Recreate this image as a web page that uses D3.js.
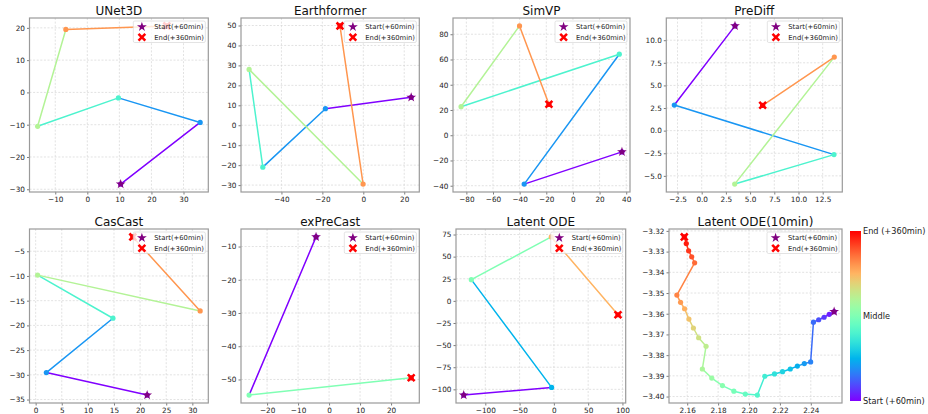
<!DOCTYPE html>
<html><head><meta charset="utf-8">
<script src="https://cdn.jsdelivr.net/npm/d3@7"></script>
<style>
body{margin:0;background:#fff}
text{font-family:"DejaVu Sans",sans-serif}
</style>
</head><body>
<svg id="c" width="928" height="414"></svg>
<script>
// ---------------- DATA ----------------
const titles = ["UNet3D","Earthformer","SimVP","PreDiff","CasCast","exPreCast","Latent ODE","Latent ODE(10min)"];

const unet3dX = [10.4, 35.2, 9.7, -15.5, -6.7, 24.8];
const unet3dY = [-28.4, -9.3, -1.7, -10.5, 19.5, 20.6];

const earthformerX = [23.4, -18.5, -49.1, -55.8, -0.1, -11.4];
const earthformerY = [14.0, 8.3, -21.0, 28.0, -29.5, 49.8];

const simvpX = [36.8, -36.6, 34.8, -84.0, -40.1, -18.0];
const simvpY = [-13.2, -38.7, 64.2, 22.6, 86.6, 24.5];

const prediffX = [3.44, -2.83, 13.67, 3.41, 13.70, 6.30];
const prediffY = [11.58, 2.83, -2.65, -5.91, 8.13, 2.80];

const cascastX = [21.35, 2.05, 14.8, 0.38, 31.5, 18.6];
const cascastY = [-34.1, -29.55, -18.55, -9.83, -17.07, -2.1];

const exprecastX = [-4.2, -25.8, 26.5];
const exprecastY = [-7.1, -54.7, -49.5];

const latentOdeX = [-131.5, -3.3, -120.4, -3.8, 93.5];
const latentOdeY = [-106.5, -97.8, 24.0, 72.3, -15.7];

const latentOde10X = [2.2551, 2.2519, 2.2486, 2.2451, 2.2417, 2.2399, 2.2358, 2.2313, 2.2267, 2.2217,
  2.2165, 2.2102, 2.2054, 2.1976, 2.1902, 2.1828, 2.1759, 2.1698, 2.1722, 2.1674,
  2.1640, 2.1611, 2.1583, 2.1557, 2.1533, 2.1648, 2.1629, 2.1609, 2.1594, 2.1581];
const latentOde10Y = [-3.3590, -3.3603, -3.3617, -3.3629, -3.3641, -3.3833, -3.3841, -3.3853, -3.3867, -3.3880,
  -3.3891, -3.3902, -3.3993, -3.3988, -3.3974, -3.3947, -3.3911, -3.3867, -3.3757, -3.3716,
  -3.3669, -3.3626, -3.3576, -3.3545, -3.3510, -3.3354, -3.3325, -3.3296, -3.3261, -3.3229];

// tick values / labels
const xTicks = [
  [-10,0,10,20,30],
  [-40,-20,0,20],
  [-80,-60,-40,-20,0,20,40],
  [-2.5,0,2.5,5,7.5,10,12.5],
  [0,5,10,15,20,25,30],
  [-20,-10,0,10,20],
  [-100,-50,0,50,100],
  [2.16,2.18,2.20,2.22,2.24]
];
const yTicks = [
  [-30,-20,-10,0,10,20],
  [-30,-20,-10,0,10,20,30,40,50],
  [-40,-20,0,20,40,60,80],
  [-5,-2.5,0,2.5,5,7.5,10],
  [-35,-30,-25,-20,-15,-10,-5],
  [-50,-40,-30,-20,-10],
  [-100,-75,-50,-25,0,25,50,75],
  [-3.40,-3.39,-3.38,-3.37,-3.36,-3.35,-3.34,-3.33,-3.32]
];
const xTickDigits = [0,0,0,1,0,0,0,2];
const yTickDigits = [0,0,0,1,0,0,0,2];

const legendLabels = ["Start(+60min)", "End(+360min)"];
const colorbarLabels = ["Start (+60min)", "Middle", "End (+360min)"];
const colorbarTicks = [0, 0.5, 1];

// ---------------- LAYOUT ----------------
const panelsX = [unet3dX, earthformerX, simvpX, prediffX, cascastX, exprecastX, latentOdeX, latentOde10X];
const panelsY = [unet3dY, earthformerY, simvpY, prediffY, cascastY, exprecastY, latentOdeY, latentOde10Y];
const boxes = [
  {l:29.5, r:208.3, t:18, b:192},
  {l:241, r:419.3, t:18, b:192},
  {l:453, r:630, t:18, b:192},
  {l:666.3, r:842.3, t:18, b:192},
  {l:29.5, r:208.3, t:229, b:403},
  {l:241, r:419.3, t:229, b:403},
  {l:456, r:625.7, t:229, b:403},
  {l:669, r:842, t:229, b:403}
];

function rainbow(t){
  const c = v => Math.max(0, Math.min(1, v));
  const r = c(Math.abs(2*t - 0.5)), g = c(Math.sin(Math.PI*t)), b = c(Math.cos(Math.PI*t/2));
  return d3.rgb(r*255, g*255, b*255).formatHex();
}
const tickLabel = (d, digits) => (d < 0 ? "\u2212" : "") + Math.abs(d).toFixed(digits);

const svg = d3.select("#c");

function starPath(size){ return d3.symbol(d3.symbolStar, size)(); }
function xPath(s){
  // filled 'X' marker, half-size s, arm half-width w
  const w = s*0.42;
  const pts = [[0,-w],[s-w,-s],[s,-s+w],[w,0],[s,s-w],[s-w,s],[0,w],[-s+w,s],[-s,s-w],[-w,0],[-s,-s+w],[-s+w,-s]];
  return "M" + pts.map(p=>p.join(",")).join("L") + "Z";
}

panelsX.forEach((xs, k) => {
  const ys = panelsY[k];
  const bx = boxes[k];
  const xe = d3.extent(xs), ye = d3.extent(ys);
  const xm = (xe[1]-xe[0])*0.05, ym = (ye[1]-ye[0])*0.05;
  const x = d3.scaleLinear().domain([xe[0]-xm, xe[1]+xm]).range([bx.l, bx.r]);
  const y = d3.scaleLinear().domain([ye[0]-ym, ye[1]+ym]).range([bx.b, bx.t]);
  const g = svg.append("g");
  const clipId = "clip"+k;
  g.append("clipPath").attr("id", clipId).append("rect")
    .attr("x", bx.l).attr("y", bx.t).attr("width", bx.r-bx.l).attr("height", bx.b-bx.t);

  // grid
  const grid = g.append("g").attr("stroke", "#d6d6d6").attr("stroke-width", 0.7).attr("stroke-dasharray", "2,1.6");
  xTicks[k].forEach(v => grid.append("line").attr("x1", x(v)).attr("x2", x(v)).attr("y1", bx.t).attr("y2", bx.b));
  yTicks[k].forEach(v => grid.append("line").attr("y1", y(v)).attr("y2", y(v)).attr("x1", bx.l).attr("x2", bx.r));

  // axes via d3
  const xAxis = d3.axisBottom(x).tickValues(xTicks[k]).tickSize(2.5).tickPadding(2)
    .tickFormat(d => tickLabel(d, xTickDigits[k]));
  const yAxis = d3.axisLeft(y).tickValues(yTicks[k]).tickSize(2.5).tickPadding(2)
    .tickFormat(d => tickLabel(d, yTickDigits[k]));
  const gx = g.append("g").attr("transform", `translate(0,${bx.b})`).call(xAxis);
  const gy = g.append("g").attr("transform", `translate(${bx.l},0)`).call(yAxis);
  [gx, gy].forEach(a => {
    a.select(".domain").remove();
    a.selectAll("line").attr("stroke", "#444").attr("stroke-width", 0.7);
    a.selectAll("text").attr("fill", "#222").style("font-size", "7.3px").style("font-family", '"DejaVu Sans",sans-serif');
  });

  // trajectory
  const n = xs.length;
  const traj = g.append("g").attr("clip-path", `url(#${clipId})`);
  for (let i = 0; i < n-1; i++){
    traj.append("line")
      .attr("x1", x(xs[i])).attr("y1", y(ys[i])).attr("x2", x(xs[i+1])).attr("y2", y(ys[i+1]))
      .attr("stroke", rainbow(i/(n-1))).attr("stroke-width", 1.5).attr("stroke-linecap", "round");
  }
  for (let i = 0; i < n; i++){
    traj.append("circle").attr("cx", x(xs[i])).attr("cy", y(ys[i])).attr("r", 2.6)
      .attr("fill", rainbow(i/(n-1)));
  }
  // start / end markers
  traj.append("path").attr("d", starPath(30)).attr("fill", "#800080")
    .attr("transform", `translate(${x(xs[0])},${y(ys[0])})`);
  traj.append("path").attr("d", xPath(4.3)).attr("fill", "#ff0000")
    .attr("transform", `translate(${x(xs[n-1])},${y(ys[n-1])})`);

  // frame
  g.append("rect").attr("x", bx.l).attr("y", bx.t).attr("width", bx.r-bx.l).attr("height", bx.b-bx.t)
    .attr("fill", "none").attr("stroke", "#9a9a9a").attr("stroke-width", 1.2);

  // title
  g.append("text").attr("x", (bx.l+bx.r)/2).attr("y", bx.t-3.5).attr("text-anchor", "middle")
    .style("font-size", "12px").attr("fill", "#111").text(titles[k]);

  // legend
  const lw = 72, lh = 21.5;
  const lx = bx.r - 3 - lw, ly = bx.t + 3;
  const lg = g.append("g");
  lg.append("rect").attr("x", lx).attr("y", ly).attr("width", lw).attr("height", lh).attr("rx", 1.5)
    .attr("fill", "#fff").attr("fill-opacity", 0.8).attr("stroke", "#d0d0d0").attr("stroke-width", 0.6);
  lg.append("path").attr("d", starPath(30)).attr("fill", "#800080")
    .attr("transform", `translate(${lx+8.6},${ly+5.8})`);
  lg.append("path").attr("d", xPath(4.3)).attr("fill", "#ff0000")
    .attr("transform", `translate(${lx+8.6},${ly+16.2})`);
  legendLabels.forEach((t, i) => {
    lg.append("text").attr("x", lx+21).attr("y", ly+5.8+i*10.6).attr("dy", "0.35em")
      .style("font-size", "6.8px").attr("fill", "#222").text(t);
  });
});

// colorbar
const cb = {l:850, r:861, t:231, b:401};
const defs = svg.append("defs");
const grad = defs.append("linearGradient").attr("id", "cbgrad").attr("x1", 0).attr("y1", 1).attr("x2", 0).attr("y2", 0);
d3.range(0, 1.0001, 0.05).forEach(t => grad.append("stop").attr("offset", t).attr("stop-color", rainbow(t)));
svg.append("rect").attr("x", cb.l).attr("y", cb.t).attr("width", cb.r-cb.l).attr("height", cb.b-cb.t)
  .attr("fill", "url(#cbgrad)");
const cbScale = d3.scaleLinear().domain([0,1]).range([cb.b, cb.t]);
const cbAxis = d3.axisRight(cbScale).tickValues(colorbarTicks).tickSize(0).tickPadding(2)
  .tickFormat((d,i) => colorbarLabels[i]);
const gcb = svg.append("g").attr("transform", `translate(${cb.r},0)`).call(cbAxis);
gcb.select(".domain").remove();
gcb.selectAll("text").attr("fill", "#222").style("font-size", "8.2px").style("font-family", '"DejaVu Sans",sans-serif');
</script>
</body></html>
